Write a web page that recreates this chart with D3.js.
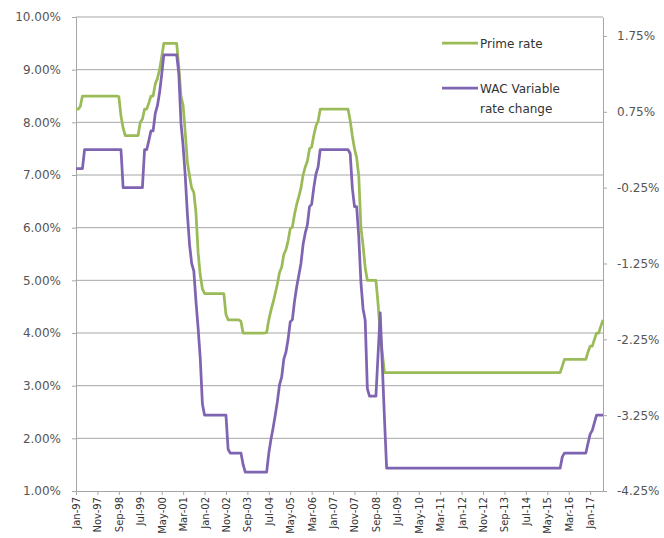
<!DOCTYPE html>
<html>
<head>
<meta charset="utf-8">
<script src="https://cdn.jsdelivr.net/npm/d3@7"></script>
<style>
  body { margin: 0; background: #fff; }
  text { font-family: "DejaVu Sans", sans-serif; }
</style>
</head>
<body>
<div id="chart"></div>
<script>
// monthly prime rate, Jan-97 .. Jul-17 (left axis, %)
const primeRate = [
  8.25, 8.25, 8.30, 8.50, 8.50, 8.50, 8.50, 8.50, 8.50, 8.50, 8.50, 8.50, // 1997
  8.50, 8.50, 8.50, 8.50, 8.50, 8.50, 8.50, 8.50, 8.49, 8.12, 7.89, 7.75, // 1998
  7.75, 7.75, 7.75, 7.75, 7.75, 7.75, 8.00, 8.06, 8.25, 8.25, 8.37, 8.50, // 1999
  8.50, 8.73, 8.83, 9.00, 9.24, 9.50, 9.50, 9.50, 9.50, 9.50, 9.50, 9.50, // 2000
  9.05, 8.50, 8.32, 7.80, 7.24, 6.98, 6.75, 6.67, 6.28, 5.53, 5.10, 4.84, // 2001
  4.75, 4.75, 4.75, 4.75, 4.75, 4.75, 4.75, 4.75, 4.75, 4.75, 4.35, 4.25, // 2002
  4.25, 4.25, 4.25, 4.25, 4.25, 4.22, 4.00, 4.00, 4.00, 4.00, 4.00, 4.00, // 2003
  4.00, 4.00, 4.00, 4.00, 4.00, 4.01, 4.25, 4.43, 4.58, 4.75, 4.93, 5.15, // 2004
  5.25, 5.49, 5.58, 5.75, 5.98, 6.01, 6.25, 6.44, 6.59, 6.75, 7.00, 7.15, // 2005
  7.26, 7.50, 7.53, 7.75, 7.93, 8.02, 8.25, 8.25, 8.25, 8.25, 8.25, 8.25, // 2006
  8.25, 8.25, 8.25, 8.25, 8.25, 8.25, 8.25, 8.25, 8.03, 7.74, 7.50, 7.33, // 2007
  6.98, 6.00, 5.66, 5.24, 5.00, 5.00, 5.00, 5.00, 5.00, 4.56, 4.00, 3.61, // 2008
  3.25, 3.25, 3.25, 3.25, 3.25, 3.25, 3.25, 3.25, 3.25, 3.25, 3.25, 3.25, // 2009
  3.25, 3.25, 3.25, 3.25, 3.25, 3.25, 3.25, 3.25, 3.25, 3.25, 3.25, 3.25, // 2010
  3.25, 3.25, 3.25, 3.25, 3.25, 3.25, 3.25, 3.25, 3.25, 3.25, 3.25, 3.25, // 2011
  3.25, 3.25, 3.25, 3.25, 3.25, 3.25, 3.25, 3.25, 3.25, 3.25, 3.25, 3.25, // 2012
  3.25, 3.25, 3.25, 3.25, 3.25, 3.25, 3.25, 3.25, 3.25, 3.25, 3.25, 3.25, // 2013
  3.25, 3.25, 3.25, 3.25, 3.25, 3.25, 3.25, 3.25, 3.25, 3.25, 3.25, 3.25, // 2014
  3.25, 3.25, 3.25, 3.25, 3.25, 3.25, 3.25, 3.25, 3.25, 3.25, 3.25, 3.37, // 2015
  3.50, 3.50, 3.50, 3.50, 3.50, 3.50, 3.50, 3.50, 3.50, 3.50, 3.50, 3.64, // 2016
  3.75, 3.75, 3.88, 4.00, 4.00, 4.13, 4.25                                // 2017
];

// WAC variable rate change (right axis, %)
const wacChange = [
  0.00, 0.00, 0.00, 0.00, 0.25, 0.25, 0.25, 0.25, 0.25, 0.25, 0.25, 0.25,             // 1997
  0.25, 0.25, 0.25, 0.25, 0.25, 0.25, 0.25, 0.25, 0.25, 0.25, -0.25, -0.25,           // 1998
  -0.25, -0.25, -0.25, -0.25, -0.25, -0.25, -0.25, -0.25, 0.25, 0.25, 0.37, 0.50,     // 1999
  0.50, 0.73, 0.83, 1.00, 1.24, 1.50, 1.50, 1.50, 1.50, 1.50, 1.50, 1.50,             // 2000
  1.25, 0.60, 0.30, -0.10, -0.60, -1.00, -1.25, -1.35, -1.75, -2.10, -2.50, -3.10,    // 2001
  -3.25, -3.25, -3.25, -3.25, -3.25, -3.25, -3.25, -3.25, -3.25, -3.25, -3.25, -3.70, // 2002
  -3.75, -3.75, -3.75, -3.75, -3.75, -3.75, -3.90, -4.00, -4.00, -4.00, -4.00, -4.00, // 2003
  -4.00, -4.00, -4.00, -4.00, -4.00, -4.00, -3.75, -3.57, -3.42, -3.25, -3.07, -2.85, // 2004
  -2.75, -2.51, -2.42, -2.25, -2.02, -1.99, -1.75, -1.56, -1.41, -1.25, -1.00, -0.85, // 2005
  -0.74, -0.50, -0.47, -0.25, -0.07, 0.02, 0.25, 0.25, 0.25, 0.25, 0.25, 0.25,        // 2006
  0.25, 0.25, 0.25, 0.25, 0.25, 0.25, 0.25, 0.25, 0.20, -0.26, -0.50, -0.50,          // 2007
  -0.90, -1.50, -1.85, -2.00, -2.90, -3.00, -3.00, -3.00, -3.00, -2.45, -1.90, -2.60, // 2008
  -3.30, -3.95, -3.95, -3.95, -3.95, -3.95, -3.95, -3.95, -3.95, -3.95, -3.95, -3.95, // 2009
  -3.95, -3.95, -3.95, -3.95, -3.95, -3.95, -3.95, -3.95, -3.95, -3.95, -3.95, -3.95, // 2010
  -3.95, -3.95, -3.95, -3.95, -3.95, -3.95, -3.95, -3.95, -3.95, -3.95, -3.95, -3.95, // 2011
  -3.95, -3.95, -3.95, -3.95, -3.95, -3.95, -3.95, -3.95, -3.95, -3.95, -3.95, -3.95, // 2012
  -3.95, -3.95, -3.95, -3.95, -3.95, -3.95, -3.95, -3.95, -3.95, -3.95, -3.95, -3.95, // 2013
  -3.95, -3.95, -3.95, -3.95, -3.95, -3.95, -3.95, -3.95, -3.95, -3.95, -3.95, -3.95, // 2014
  -3.95, -3.95, -3.95, -3.95, -3.95, -3.95, -3.95, -3.95, -3.95, -3.95, -3.95, -3.80, // 2015
  -3.75, -3.75, -3.75, -3.75, -3.75, -3.75, -3.75, -3.75, -3.75, -3.75, -3.75, -3.62, // 2016
  -3.50, -3.45, -3.35, -3.25, -3.25, -3.25, -3.25                                     // 2017
];

const tickLabels = ["Jan-97", "Nov-97", "Sep-98", "Jul-99", "May-00", "Mar-01", "Jan-02",
                    "Nov-02", "Sep-03", "Jul-04", "May-05", "Mar-06", "Jan-07", "Nov-07",
                    "Sep-08", "Jul-09", "May-10", "Mar-11", "Jan-12", "Nov-12", "Sep-13",
                    "Jul-14", "May-15", "Mar-16", "Jan-17"];
const leftTicks = [1, 2, 3, 4, 5, 6, 7, 8, 9, 10];
const rightTicks = [-4.25, -3.25, -2.25, -1.25, -0.25, 0.75, 1.75];
const seriesNames = ["Prime rate", "WAC Variable rate change"];

const months = d3.timeMonth.range(new Date(1997, 0, 1), new Date(2017, 7, 1))
                 .map(d3.timeFormat("%b-%y"));
if (months.length !== primeRate.length || months.length !== wacChange.length) {
    throw new Error(`length mismatch ${months.length} ${primeRate.length} ${wacChange.length}`);
}

const margin = { top: 17, right: 61, bottom: 47, left: 76 },
      width = 664 - margin.left - margin.right,
      height = 538 - margin.top - margin.bottom;

const svg = d3.select("#chart")
              .append("svg")
              .attr("width", width + margin.left + margin.right)
              .attr("height", height + margin.top + margin.bottom)
              .append("g")
              .attr("transform", `translate(${margin.left},${margin.top})`);

const x = d3.scalePoint().domain(months).range([0, width]);
const yLeft = d3.scaleLinear().domain([1, 10]).range([height, 0]);
const yRight = d3.scaleLinear().domain([-4.25, 2.0]).range([height, 0]);

const green = "#9bbb59", purple = "#7f64b2", gridCol = "#a6a6a6";
const pct = d => d.toFixed(2) + "%";

// gridlines
svg.selectAll(".grid")
   .data(leftTicks.slice(1))
   .join("line")
   .attr("x1", 0).attr("x2", width)
   .attr("y1", d => yLeft(d)).attr("y2", d => yLeft(d))
   .attr("stroke", gridCol)
   .attr("stroke-width", 1);

// Left axis
const gl = svg.append("g")
   .call(d3.axisLeft(yLeft).tickValues(leftTicks).tickFormat(pct)
           .tickSize(4).tickSizeOuter(0).tickPadding(11));

// Right axis
const gr = svg.append("g")
   .attr("transform", `translate(${width},0)`)
   .call(d3.axisRight(yRight).tickValues(rightTicks).tickFormat(pct)
           .tickSize(4).tickSizeOuter(0).tickPadding(10));

// X axis
const gx = svg.append("g")
   .attr("transform", `translate(0,${height})`)
   .call(d3.axisBottom(x).tickValues(tickLabels).tickSize(4).tickSizeOuter(0));

gx.selectAll("text")
  .attr("transform", "rotate(-90)")
  .attr("text-anchor", "end")
  .attr("x", -6)
  .attr("y", 0)
  .attr("dy", "0.35em")
  .style("font-size", "10px")
  .attr("fill", "#333");

[gl, gr].forEach(g => g.selectAll("text").style("font-size", "12px").attr("fill", "#555"));
[gl, gr, gx].forEach(g => {
    g.select(".domain").attr("stroke", gridCol);
    g.selectAll(".tick line").attr("stroke", gridCol);
});

// Lines
const linePrime = d3.line()
                    .x((d, i) => x(months[i]))
                    .y(d => yLeft(d));
const lineWac = d3.line()
                  .x((d, i) => x(months[i]))
                  .y(d => yRight(d));

svg.append("path")
   .datum(primeRate)
   .attr("fill", "none")
   .attr("stroke", green)
   .attr("stroke-width", 2.75)
   .attr("stroke-linejoin", "round")
   .attr("d", linePrime);

svg.append("path")
   .datum(wacChange)
   .attr("fill", "none")
   .attr("stroke", purple)
   .attr("stroke-width", 2.75)
   .attr("stroke-linejoin", "round")
   .attr("d", lineWac);

// Legend
const legend = svg.append("g").attr("transform", "translate(366,26)");
legend.append("line").attr("x1", 0).attr("x2", 36).attr("y1", 0).attr("y2", 0)
      .attr("stroke", green).attr("stroke-width", 2.75);
legend.append("text").attr("x", 38).attr("y", 4.5)
      .style("font-size", "12px").attr("fill", "#333").text(seriesNames[0]);

legend.append("line").attr("x1", 0).attr("x2", 36).attr("y1", 45).attr("y2", 45)
      .attr("stroke", purple).attr("stroke-width", 2.75);
legend.append("text").attr("x", 38).attr("y", 49.5)
      .style("font-size", "12px").attr("fill", "#333").text("WAC Variable");
legend.append("text").attr("x", 38).attr("y", 69.5)
      .style("font-size", "12px").attr("fill", "#333").text("rate change");
</script>
</body>
</html>
